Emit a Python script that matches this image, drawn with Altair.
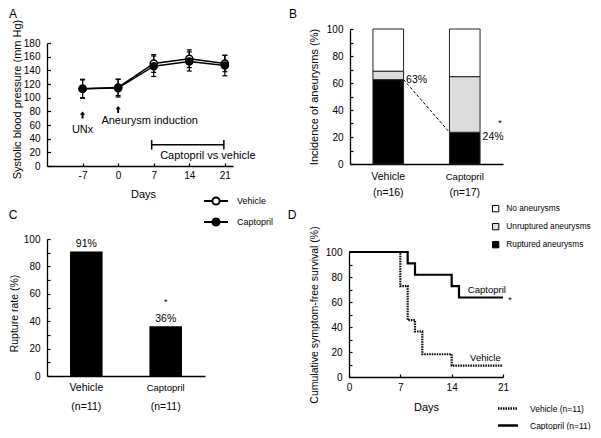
import altair as alt
import pandas as pd

FONT = "Liberation Sans"
W, H = 585, 422

# ---------------- data ----------------
days_a = [-7, 0, 7, 14, 21]
sbp_vehicle = [113, 115, 150, 157, 150]
sbp_captopril = [113, 114, 146, 153, 147]
sd_vehicle = [13, 12, 13, 13, 12]
sd_captopril = [14, 13, 15, 14, 15]

groups = ["Vehicle", "Captopril"]

status_order = ["No aneurysms", "Unruptured aneurysms", "Ruptured aneurysms"]
b_status = ["Ruptured aneurysms", "Unruptured aneurysms", "No aneurysms"]
b_vehicle = [62.5, 6.25, 31.25]
b_captopril = [23.5, 41.2, 35.3]
b_n = ["(n=16)", "(n=17)"]
b_pct = ["63%", "24%"]

c_rate = [90.9, 36.4]
c_pct = ["91%", "36%"]
c_n = ["(n=11)", "(n=11)"]

d_vehicle_days = [0, 7, 8, 9, 10, 14, 21]
d_vehicle_surv = [100, 72.7, 45.5, 36.4, 18.2, 9.1, 9.1]
d_captopril_days = [0, 8, 9, 14, 15, 21]
d_captopril_surv = [100, 90.9, 81.8, 72.7, 63.6, 63.6]


def txt(size=10.5, align="center", baseline="middle", **kw):
    return dict(font=FONT, fontSize=size, color="black", align=align, baseline=baseline, **kw)


layers = []

# ================= Panel A =================
sxA = alt.Scale(domain=[-14, 22.6], range=[39, 225], nice=False, zero=False)
syA = alt.Scale(domain=[0, 180], range=[158, 35], nice=False, zero=False)

a_df = pd.DataFrame({
    "day": days_a * 2,
    "sbp": sbp_vehicle + sbp_captopril,
    "sd": sd_vehicle + sd_captopril,
    "group": ["Vehicle"] * 5 + ["Captopril"] * 5,
})
a_df["lo"] = a_df["sbp"] - a_df["sd"]
a_df["hi"] = a_df["sbp"] + a_df["sd"]


def XA(f="day"):
    return alt.X(f"{f}:Q", scale=sxA, axis=None)


def YA(f):
    return alt.Y(f"{f}:Q", scale=syA, axis=None)


axA_x = alt.Axis(orient="bottom", offset=158 - H, values=days_a, title="Days",
                 labelExpr="replace(datum.label, '\u2212', '-')",
                 tickSize={"expr": "-3"}, labelPadding=7, labelFlush=False, labelOverlap=False,
                 titleX=135, titleY=28, titleBaseline="middle", titleFontSize=11)
axA_y = alt.Axis(orient="left", offset=-39, values=list(range(0, 181, 20)),
                 title="Systolic blood pressure (mm Hg)",
                 tickSize={"expr": "-3.5"}, labelPadding=10.5, labelFlush=False, labelOverlap=False,
                 titleX=-30, titleY=91, titleBaseline="middle", titleFontSize=11)

layers.append(alt.Chart(a_df).mark_rule(color="black", strokeWidth=1.2).encode(
    x=alt.X("day:Q", scale=sxA, axis=axA_x),
    y=alt.Y("lo:Q", scale=syA, axis=axA_y),
    y2="hi:Q",
))
layers.append(alt.Chart(a_df).mark_point(shape="stroke", size=25, color="black", strokeWidth=1.2, opacity=1).encode(
    x=XA(), y=YA("lo")))
layers.append(alt.Chart(a_df).mark_point(shape="stroke", size=25, color="black", strokeWidth=1.2, opacity=1).encode(
    x=XA(), y=YA("hi")))
layers.append(alt.Chart(a_df).mark_line(color="black", strokeWidth=1.5).encode(
    x=XA(), y=YA("sbp"), detail="group:N"))

LEG_A_PATH = ("M-1,0L-0.3,0M0.3,0L1,0M0.3,0A0.3,0.3,0,1,1,-0.3,0"
              "A0.3,0.3,0,1,1,0.3,0Z")
legA = alt.Legend(orient="none", legendX=195, legendY=180, title=None,
                  symbolType=LEG_A_PATH, symbolSize=576, symbolStrokeColor="black",
                  symbolStrokeWidth=2, symbolOpacity=1, labelFontSize=9, labelOffset=8,
                  rowPadding=-2, padding=0)
layers.append(alt.Chart(a_df).mark_point(shape="circle", size=50, stroke="black", strokeWidth=1.5, opacity=1).encode(
    x=XA(), y=YA("sbp"),
    fill=alt.Fill("group:N", scale=alt.Scale(domain=groups, range=["white", "black"]), legend=legA),
))

ARROW = "M0,-1L0.75,-0.1L0.28,-0.1L0.28,1L-0.28,1L-0.28,-0.1L-0.75,-0.1Z"
a_arrow_df = pd.DataFrame({"day": [-7, 0], "y": [74.6, 82.7]})
layers.append(alt.Chart(a_arrow_df).mark_point(shape=ARROW, size=49, filled=True, color="black", opacity=1).encode(
    x=XA(), y=YA("y")))

layers.append(alt.Chart(pd.DataFrame({"x": [-7], "y": [52.7], "t": ["UNx"]})).mark_text(**txt(11)).encode(
    x=XA("x"), y=YA("y"), text="t:N"))
layers.append(alt.Chart(pd.DataFrame({"x": [-3.3], "y": [66], "t": ["Aneurysm induction"]})).mark_text(
    **txt(11, align="left")).encode(x=XA("x"), y=YA("y"), text="t:N"))
layers.append(alt.Chart(pd.DataFrame({"x": [17.65], "y": [14.6], "t": ["Captopril vs vehicle"]})).mark_text(
    **txt(11)).encode(x=XA("x"), y=YA("y"), text="t:N"))

layers.append(alt.Chart(pd.DataFrame({"x1": [6.6], "x2": [20.8], "y": [31]})).mark_rule(
    color="black", strokeWidth=1.5).encode(x=XA("x1"), x2="x2:Q", y=YA("y")))
layers.append(alt.Chart(pd.DataFrame({"x": [6.6, 20.8], "lo": [24, 24], "hi": [38, 38]})).mark_rule(
    color="black", strokeWidth=1.5).encode(x=XA("x"), y=YA("lo"), y2="hi:Q"))

layers.append(alt.Chart(pd.DataFrame({"x": [-20.69, 34.4], "y": [229.8, 229.8], "t": ["A", "B"]})).mark_text(
    **txt(12, baseline="top")).encode(x=XA("x"), y=YA("y"), text="t:N"))

# ================= Panel B =================
sxB = alt.Scale(type="band", domain=groups, range=[342, 495], paddingInner=0.6, paddingOuter=0.3)
syB = alt.Scale(domain=[0, 100], range=[156, 21], nice=False, zero=False)

rows = []
for g, vals in zip(groups, [b_vehicle, b_captopril]):
    for i, (s, v) in enumerate(zip(b_status, vals)):
        rows.append({"group": g, "status": s, "value": v, "ord": i})
b_df = pd.DataFrame(rows)

cat_font = {"condition": {"test": "datum.value === 'Captopril'", "value": 9.5}, "value": 10.5}
axB_x = alt.Axis(orient="bottom", offset=156 - H, ticks=False, labelPadding=7, title=None,
                 labelFontSize=cat_font, labelAngle=0)
axB_y = alt.Axis(orient="left", offset=-342, values=list(range(0, 101, 10)),
                 labelExpr="datum.value % 20 === 0 ? datum.label : ''",
                 title="Incidence of aneurysms (%)",
                 tickSize={"expr": "-3"}, labelPadding=10, labelFlush=False, labelOverlap=False,
                 titleX=-36, titleBaseline="middle", titleFontSize=11)

legB = alt.Legend(orient="none", legendX=483.5, legendY=196.5, title=None, symbolType="square",
                  symbolSize=40, symbolStrokeColor="black", symbolStrokeWidth=1, labelFontSize=8.3,
                  labelOffset=6.5, rowPadding=6, padding=0)

layers.append(alt.Chart(b_df).mark_bar(stroke="#222222", strokeWidth=1).encode(
    x=alt.X("group:N", scale=sxB, axis=axB_x),
    y=alt.Y("value:Q", stack="zero", scale=syB, axis=axB_y),
    fill=alt.Fill("status:N", scale=alt.Scale(domain=status_order, range=["white", "#dcdcdc", "black"]),
                  legend=legB),
    order=alt.Order("ord:Q"),
))

b_rule_df = pd.DataFrame({"g1": ["Vehicle"], "g2": ["Captopril"], "v1": [b_vehicle[0]], "v2": [b_captopril[0]]})
layers.append(alt.Chart(b_rule_df).mark_rule(color="black", strokeDash=[3, 2], strokeWidth=1).encode(
    x=alt.X("g1:N", scale=sxB, axis=None, bandPosition=1),
    x2=alt.X2("g2:N", bandPosition=0),
    y=alt.Y("v1:Q", scale=syB, axis=None),
    y2="v2:Q",
))

b_pct_df = pd.DataFrame({"group": groups, "y": [62, 20], "t": b_pct})
layers.append(alt.Chart(b_pct_df).mark_text(**txt(10.5, align="left", dx=2.5)).encode(
    x=alt.X("group:N", scale=sxB, axis=None, bandPosition=1),
    y=alt.Y("y:Q", scale=syB, axis=None), text="t:N"))
layers.append(alt.Chart(pd.DataFrame({"group": ["Captopril"], "y": [28], "t": ["*"]})).mark_text(
    **txt(9, baseline="alphabetic", dx=20)).encode(
    x=alt.X("group:N", scale=sxB, axis=None, bandPosition=1),
    y=alt.Y("y:Q", scale=syB, axis=None), text="t:N"))
layers.append(alt.Chart(pd.DataFrame({"group": groups, "y": [-21.5, -21.5], "t": b_n})).mark_text(
    **txt(10.5)).encode(
    x=alt.X("group:N", scale=sxB, axis=None),
    y=alt.Y("y:Q", scale=syB, axis=None), text="t:N"))

# ================= Panel C =================
sxC = alt.Scale(type="band", domain=groups, range=[39, 197], paddingInner=0.59, paddingOuter=0.29)
syC = alt.Scale(domain=[0, 100], range=[368, 231], nice=False, zero=False)

c_df = pd.DataFrame({"group": groups, "rate": c_rate, "t": c_pct, "n": c_n})

axC_x = alt.Axis(orient="bottom", offset=368 - H, ticks=False, labelPadding=6, title=None,
                 labelFontSize=cat_font, labelAngle=0)
axC_y = alt.Axis(orient="left", offset=-39, values=list(range(0, 101, 10)),
                 labelExpr="datum.value % 20 === 0 ? datum.label : ''",
                 title="Rupture rate (%)",
                 tickSize={"expr": "-3"}, labelPadding=10, labelFlush=False, labelOverlap=False,
                 titleX=-32.5, titleY=305, titleBaseline="middle", titleFontSize=10.5)

layers.append(alt.Chart(c_df).mark_bar(color="black").encode(
    x=alt.X("group:N", scale=sxC, axis=axC_x),
    y=alt.Y("rate:Q", scale=syC, axis=axC_y),
))
layers.append(alt.Chart(c_df).mark_text(**txt(10.5, baseline="alphabetic", dy=-4)).encode(
    x=alt.X("group:N", scale=sxC, axis=None),
    y=alt.Y("rate:Q", scale=syC, axis=None), text="t:N"))
layers.append(alt.Chart(c_df[c_df["group"] == "Captopril"]).mark_text(
    **txt(9, baseline="alphabetic", dy=-21)).encode(
    x=alt.X("group:N", scale=sxC, axis=None),
    y=alt.Y("rate:Q", scale=syC, axis=None), text=alt.value("*")))
layers.append(alt.Chart(c_df.assign(y=-22.6)).mark_text(**txt(10.5)).encode(
    x=alt.X("group:N", scale=sxC, axis=None),
    y=alt.Y("y:Q", scale=syC, axis=None), text="n:N"))

# ================= Panel D =================
sxD = alt.Scale(domain=[0, 21], range=[341, 495], nice=False, zero=False)
syD = alt.Scale(domain=[0, 100], range=[369, 244], nice=False, zero=False)

d_df = pd.DataFrame({
    "day": d_vehicle_days + d_captopril_days,
    "surv": d_vehicle_surv + d_captopril_surv,
    "group": ["Vehicle"] * len(d_vehicle_days) + ["Captopril"] * len(d_captopril_days),
})

axD_x = alt.Axis(orient="bottom", offset=369 - H, values=[0, 7, 14, 21], title="Days",
                 tickSize={"expr": "-3"}, labelPadding=8, labelFlush=False, labelOverlap=False,
                 titleX=418, titleY=30, titleBaseline="middle", titleFontSize=11)
axD_y = alt.Axis(orient="left", offset=-341, values=list(range(0, 101, 10)),
                 labelExpr="datum.value % 20 === 0 ? datum.label : ''",
                 title="Cumulative symptom-free survival (%)",
                 tickSize={"expr": "-3"}, labelPadding=10, labelFlush=False, labelOverlap=False,
                 titleX=-35, titleBaseline="middle", titleFontSize=10.5)

legD = alt.Legend(orient="none", legendX=488.5, legendY=389, title=None, symbolType="stroke",
                  symbolSize=400, symbolStrokeColor="black", symbolStrokeWidth=2.5, labelFontSize=8.5,
                  labelOffset=10.5, rowPadding=-1, padding=0,
                  labelExpr="datum.label + ' (n=11)'")

layers.append(alt.Chart(d_df).mark_line(interpolate="step-after", color="black", strokeWidth=2.2).encode(
    x=alt.X("day:Q", scale=sxD, axis=axD_x),
    y=alt.Y("surv:Q", scale=syD, axis=axD_y),
    strokeDash=alt.StrokeDash("group:N", scale=alt.Scale(domain=groups, range=[[1.5, 1], [1, 0]]),
                              legend=legD),
))


def XD(f):
    return alt.X(f"{f}:Q", scale=sxD, axis=None)


def YD(f):
    return alt.Y(f"{f}:Q", scale=syD, axis=None)


layers.append(alt.Chart(pd.DataFrame({"x": [18.8, 18.6], "y": [69.6, 15.2], "t": ["Captopril", "Vehicle"]})).mark_text(
    **txt(9.5)).encode(x=XD("x"), y=YD("y"), text="t:N"))
layers.append(alt.Chart(pd.DataFrame({"x": [21.95], "y": [59], "t": ["*"]})).mark_text(
    **txt(9, baseline="alphabetic")).encode(x=XD("x"), y=YD("y"), text="t:N"))
layers.append(alt.Chart(pd.DataFrame({"x": [-45.82, -7.77], "y": [129.6, 129.6], "t": ["C", "D"]})).mark_text(
    **txt(12)).encode(x=XD("x"), y=YD("y"), text="t:N"))

# ================= assemble =================
chart = (
    alt.layer(*layers)
    .resolve_scale(x="independent", y="independent", fill="independent", strokeDash="independent")
    .resolve_axis(x="independent", y="independent")
    .resolve_legend(fill="independent")
    .properties(width=W, height=H, padding=0, autosize=alt.AutoSizeParams(type="none"))
    .configure_view(stroke="transparent")
    .configure_axis(labelFont=FONT, titleFont=FONT, labelColor="black", titleColor="black",
                    domainColor="black", tickColor="black", domainWidth=1.3, tickWidth=1.2,
                    grid=False, labelFontSize=10, titleFontWeight="normal")
    .configure_legend(labelFont=FONT, labelColor="black")
)

chart.save("out.html", embed_options={"renderer": "svg", "actions": False})
